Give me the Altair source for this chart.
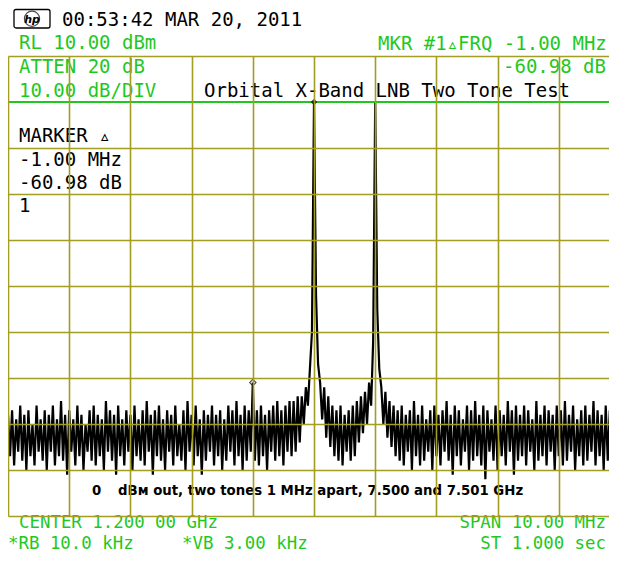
import altair as alt
import pandas as pd

# Sweep: 301 trace points over a 10 MHz span centred on the carrier (MHz offset)
SPAN_START_MHZ = -5.0
SPAN_MHZ = 10.0

# trace amplitude, dBm, left noise floor (points 0-139)
noise_left = [
    -68, -77, -67, -79, -69, -76, -66, -78, -68, -80, -67, -77, -70, -79, -66, -76, -69, -78, -67, -80,
    -68, -76, -66, -79, -69, -77, -65, -78, -68, -81, -67, -76, -69, -79, -66, -77, -68, -80, -70, -76,
    -67, -78, -66, -79, -68, -77, -69, -80, -65, -76, -67, -78, -68, -81, -66, -77, -69, -79, -67, -76,
    -68, -80, -66, -77, -69, -78, -67, -79, -65, -76, -68, -81, -67, -77, -66, -78, -69, -80, -67, -76,
    -68, -79, -66, -77, -70, -78, -67, -80, -65, -76, -68, -79, -66, -77, -69, -81, -67, -78, -68, -76,
    -66, -79, -68, -77, -67, -80, -69, -78, -66, -76, -67, -79, -65, -77, -68, -80, -66, -78, -67, -76,
    -61, -78, -67, -79, -66, -77, -68, -80, -67, -76, -66, -78, -65, -77, -67, -79, -66, -76, -65, -77,
]
# first tone (7.500 GHz) with its skirts (points 140-157)
tone_1 = [-65, -76, -64, -74, -64, -70, -62, -66, -58, -50, 0, -42, -57, -61, -69, -62, -73, -64]
# floor between the tones (points 158-175)
between = [-75, -66, -77, -67, -78, -66, -79, -68, -76, -67, -78, -66, -77, -65, -74, -64, -72, -63]
# second tone (7.501 GHz) with its skirts (points 176-190)
tone_2 = [-70, -61, -66, -52, -0.2, -45, -58, -62, -70, -63, -73, -65, -75, -66, -77]
# right noise floor (points 191-300)
noise_right = [
    -67, -78, -66, -79, -68, -76, -67, -80, -65, -77, -68, -79, -66, -78, -69, -76, -67, -80, -66, -77,
    -68, -79, -67, -76, -65, -78, -68, -81, -66, -77, -67, -79, -69, -76, -66, -80, -67, -78, -65, -77,
    -68, -79, -66, -82, -67, -76, -69, -78, -66, -80, -67, -77, -68, -79, -65, -76, -67, -81, -66, -78,
    -68, -77, -66, -79, -67, -76, -69, -80, -65, -78, -68, -77, -66, -79, -67, -76, -68, -80, -66, -77,
    -67, -79, -65, -78, -68, -76, -66, -80, -69, -77, -67, -79, -66, -78, -68, -76, -65, -79, -67, -77,
    -68, -80, -66, -78, -67, -76, -69, -79, -66, -77,
]

# markers: reference marker on tone 1, delta marker 1 MHz below it
marker_mhz = [0.0, -1.0]
marker_dbm = [0.0, -61.0]
marker_kind = ["ref", "delta"]

display_line_dbm = [0.0]

# graticule: 10 dB/div from RL 10 dBm, 1 MHz/div
y_grid = [-90, -80, -70, -60, -50, -40, -30, -20, -10, 10]
x_grid = [-5, -4, -3, -2, -1, 0, 1, 2, 3, 4]

header_time = "00:53:42  MAR 20, 2011"
title_text = "Orbital X-Band LNB Two Tone Test"
green_left = ["RL 10.00 dBm", "ATTEN 20 dB", "10.00 dB/DIV"]
mkr_line = "MKR #1\u25b5FRQ -1.00 MHz"
mkr_val = "-60.98 dB"
marker_block = ["MARKER \u25b5", "-1.00 MHz", "-60.98 dB", "1"]
note_zero = "0"
note_text = "dB\u043c out, two tones 1 MHz apart, 7.500 and 7.501 GHz"
bottom_texts = ["CENTER 1.200 00 GHz", "*RB 10.0 kHz", "*VB 3.00 kHz", "SPAN 10.00 MHz", "ST 1.000 sec"]

# ---------------- build ----------------
trace = noise_left + tone_1 + between + tone_2 + noise_right
step = SPAN_MHZ / (len(trace) - 1)
df = pd.DataFrame({"f": [SPAN_START_MHZ + i * step for i in range(len(trace))], "dbm": trace})
mk = pd.DataFrame({"f": marker_mhz, "dbm": marker_dbm, "kind": marker_kind})

GRID = "#a39d22"
GREEN = "#1fc81f"
MONO = "DejaVu Sans Mono"
W, H = 601, 460
PX_PER_DIV = 61.2
X_MAX = SPAN_START_MHZ + W / PX_PER_DIV
OX, OY = 8, 56  # page position of the plot origin
PAD_BOTTOM = 545 - (OY - 8) - H

xscale = alt.Scale(domain=[SPAN_START_MHZ, X_MAX], nice=False, zero=False)
yscale = alt.Scale(domain=[-90, 10], nice=False, zero=False)

xaxis = alt.Axis(values=x_grid, grid=True, labels=False, ticks=False, domain=False, title=None,
                 gridColor=GRID, gridWidth=1.6, gridOpacity=1, zindex=1)
yaxis = alt.Axis(values=y_grid, grid=True, labels=False, ticks=False, domain=False, title=None,
                 gridColor=GRID, gridWidth=1.6, gridOpacity=1, zindex=1)

line = alt.Chart(df).mark_line(color="black", strokeWidth=2.2, clip=True, interpolate="linear").encode(
    x=alt.X("f:Q", scale=xscale, axis=xaxis),
    y=alt.Y("dbm:Q", scale=yscale, axis=yaxis),
)

dl = alt.Chart(pd.DataFrame({"v": display_line_dbm})).mark_rule(color=GREEN, strokeWidth=1.8).encode(
    y=alt.Y("v:Q", scale=yscale)
)

ref_mk = alt.Chart(mk[mk.kind == "ref"]).mark_point(shape="diamond", filled=True, color="black", size=45).encode(
    x=alt.X("f:Q", scale=xscale), y=alt.Y("dbm:Q", scale=yscale)
)
delta_mk = alt.Chart(mk[mk.kind == "delta"]).mark_point(shape="diamond", filled=False, color="black",
                                                       size=40, strokeWidth=1.2).encode(
    x=alt.X("f:Q", scale=xscale), y=alt.Y("dbm:Q", scale=yscale)
)


def label(text, px, py, color="black", size=19, font=MONO, weight="normal", align="left", style="normal"):
    return alt.Chart(pd.DataFrame({"t": [text]})).mark_text(
        align=align, baseline="alphabetic", font=font, fontSize=size, fontWeight=weight,
        fontStyle=style, color=color
    ).encode(x=alt.value(px - OX), y=alt.value(py - OY), text="t:N")


BOTTOM_SIZE = 17.4
texts = [
    label(header_time, 62, 26),
    label(green_left[0], 19, 49, GREEN),
    label(green_left[1], 19, 73, GREEN),
    label(green_left[2], 19, 97, GREEN),
    label(title_text, 204, 97),
    label(mkr_line, 378, 50, GREEN),
    label(mkr_val, 606, 73, GREEN, align="right"),
    label(marker_block[0], 19, 142),
    label(marker_block[1], 19, 166),
    label(marker_block[2], 19, 189),
    label(marker_block[3], 19, 212),
    label(note_zero, 92, 495, size=13.3, font="DejaVu Sans", weight="bold"),
    label(note_text, 118, 495, size=13.3, font="DejaVu Sans", weight="bold"),
    label(bottom_texts[0], 19, 528.4, GREEN, size=BOTTOM_SIZE),
    label(bottom_texts[1], 8, 548.7, GREEN, size=BOTTOM_SIZE),
    label(bottom_texts[2], 182, 548.7, GREEN, size=BOTTOM_SIZE),
    label(bottom_texts[3], 606, 528.4, GREEN, size=BOTTOM_SIZE, align="right"),
    label(bottom_texts[4], 606, 548.7, GREEN, size=BOTTOM_SIZE, align="right"),
]

one = pd.DataFrame({"a": [0]})
logo_box = alt.Chart(one).mark_rect(fill="white", stroke="black", strokeWidth=1.3, cornerRadius=2).encode(
    x=alt.value(14 - OX), x2=alt.value(50 - OX), y=alt.value(9.5 - OY), y2=alt.value(28 - OY)
)
logo_circle = alt.Chart(one).mark_point(shape="circle", filled=False, color="black", size=230,
                                         strokeWidth=1.2).encode(
    x=alt.value(32 - OX), y=alt.value(18.7 - OY)
)
logo_text = label("hp", 32, 23, size=11, font="DejaVu Sans", weight="bold", align="center", style="italic")

chart = alt.layer(line, dl, ref_mk, delta_mk, logo_box, logo_circle, logo_text, *texts).properties(
    width=W, height=H,
    autosize=alt.AutoSizeParams(type="none"),
    padding={"left": 0, "top": OY - 8, "right": 0, "bottom": PAD_BOTTOM},
    background="white",
).configure_view(stroke=None)

chart.save("out.html", embed_options={"renderer": "svg", "actions": False})
